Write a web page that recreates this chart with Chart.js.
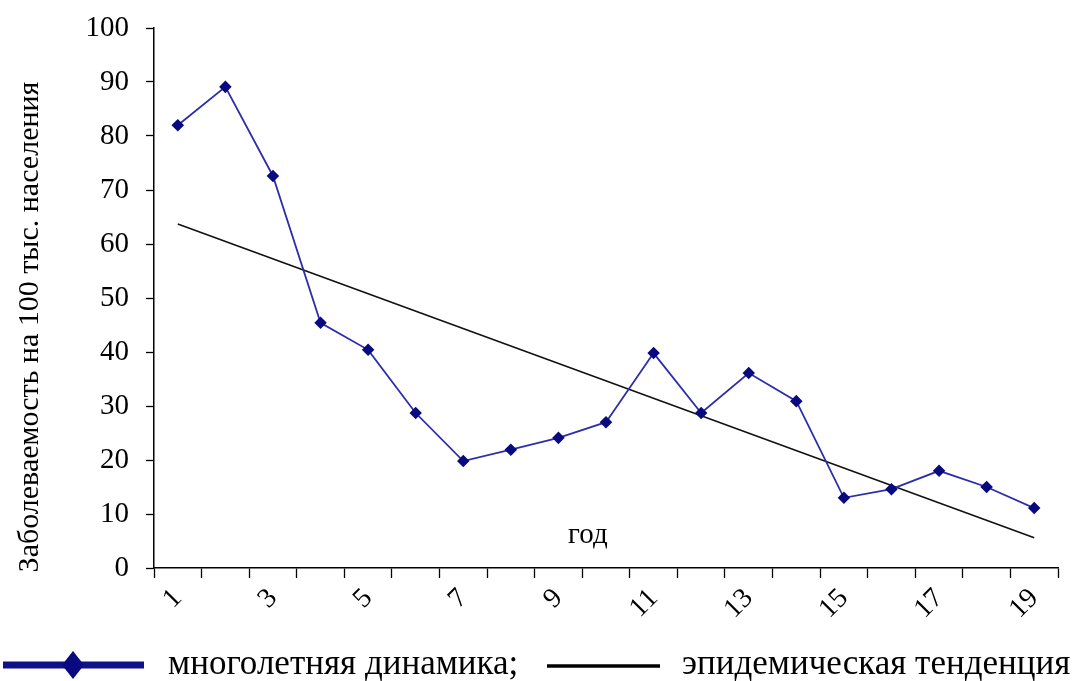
<!DOCTYPE html>
<html>
<head>
<meta charset="utf-8">
<script src="https://cdn.jsdelivr.net/npm/chart.js@4"></script>
<style>
  html, body { margin: 0; padding: 0; background: #fff; }
  #wrap { width: 1082px; height: 681px; position: relative; }
</style>
</head>
<body>
<div id="wrap"><canvas id="chart"></canvas></div>
<script>
// годы наблюдения
let years = ['1','2','3','4','5','6','7','8','9','10','11','12','13','14','15','16','17','18','19'];
// многолетняя динамика (на 100 тыс.)
let dynamics = [82.0, 89.1, 72.6, 45.4, 40.4, 28.7, 19.8, 21.9, 24.1, 27.0, 39.8, 28.7, 36.1, 30.9, 13.0, 14.6, 18.0, 15.0, 11.1];
// тенденция - только начало и конец прямой
let trend = [63.7, null, null, null, null, null, null, null, null, null, null, null, null, null, null, null, null, null, 5.6];
let yTicks = [0, 10, 20, 30, 40, 50, 60, 70, 80, 90, 100];

let serif = "'Liberation Serif', 'Times New Roman', serif";

// подписи осей и легенду рисуем сами
const extras = {
  id: 'extras',
  afterDraw(chart) {
    const ctx = chart.ctx;
    const a = chart.chartArea;
    ctx.save();
    ctx.fillStyle = '#000';
    ctx.font = '29px ' + serif;
    ctx.textAlign = 'center';
    ctx.textBaseline = 'middle';
    ctx.fillText('год', a.left + (a.right - a.left) * 0.48, 535);

    // подпись оси Y
    ctx.save();
    ctx.translate(30, 327);
    ctx.rotate(-Math.PI / 2);
    ctx.font = '30px ' + serif;
    ctx.fillText('Заболеваемость на 100 тыс. населения', 0, 0);
    ctx.restore();

    // легенда
    let ly = 665;
    ctx.strokeStyle = '#101088';
    ctx.lineWidth = 7;
    ctx.beginPath(); ctx.moveTo(3, ly); ctx.lineTo(144, ly); ctx.stroke();
    ctx.fillStyle = '#0a0a80';
    ctx.beginPath();
    ctx.moveTo(73, ly - 14); ctx.lineTo(84, ly); ctx.lineTo(73, ly + 14); ctx.lineTo(62, ly);
    ctx.closePath(); ctx.fill();
    ctx.strokeStyle = '#000';
    ctx.lineWidth = 3.5;
    ctx.beginPath(); ctx.moveTo(547, ly + 1); ctx.lineTo(660, ly + 1); ctx.stroke();

    ctx.fillStyle = '#000';
    ctx.font = '35px ' + serif;
    ctx.textAlign = 'left';
    ctx.fillText('многолетняя динамика;', 168, ly);
    ctx.fillText('эпидемическая тенденция', 682, ly);
    ctx.restore();
  }
};

new Chart(document.getElementById('chart'), {
  type: 'line',
  data: {
    labels: years,
    datasets: [
      {
        label: 'многолетняя динамика',
        data: dynamics,
        borderColor: '#2e2eaa',
        borderWidth: 1.8,
        pointStyle: 'rectRot',
        pointRadius: 5,
        pointBackgroundColor: '#0a0a80',
        pointBorderColor: '#0a0a80',
        tension: 0
      },
      {
        label: 'эпидемическая тенденция',
        data: trend,
        borderColor: '#111',
        borderWidth: 1.6,
        pointRadius: 0,
        spanGaps: true
      }
    ]
  },
  options: {
    responsive: true,
    maintainAspectRatio: false,
    animation: false,
    layout: { padding: { top: 28, right: 24, bottom: 50, left: 0 } },
    plugins: {
      legend: { display: false },
      tooltip: { enabled: false }
    },
    scales: {
      x: {
        offset: true,
        grid: { offset: true, drawOnChartArea: false, color: '#000', tickLength: 10, tickWidth: 1.3 },
        border: { color: '#000', width: 1.5 },
        ticks: {
          autoSkip: false,
          minRotation: 45,
          maxRotation: 45,
          color: '#000',
          padding: 4,
          font: { family: serif, size: 28 },
          callback: function(v, i) { return i % 2 === 0 ? years[i] : ''; }
        },
        afterFit: function(s) { s.height = 63; s.paddingLeft = 0; s.paddingRight = 0; }
      },
      y: {
        min: 0,
        max: 100,
        afterBuildTicks: function(s) { s.ticks = yTicks.map(v => ({ value: v })); },
        grid: { drawOnChartArea: false, color: '#000', tickLength: 8, tickWidth: 1.3 },
        border: { color: '#000', width: 1.5 },
        ticks: { color: '#000', padding: 17, font: { family: serif, size: 29 } },
        afterFit: function(s) { s.width = 154; s.paddingTop = 0; s.paddingBottom = 0; }
      }
    }
  },
  plugins: [extras]
});
</script>
</body>
</html>
